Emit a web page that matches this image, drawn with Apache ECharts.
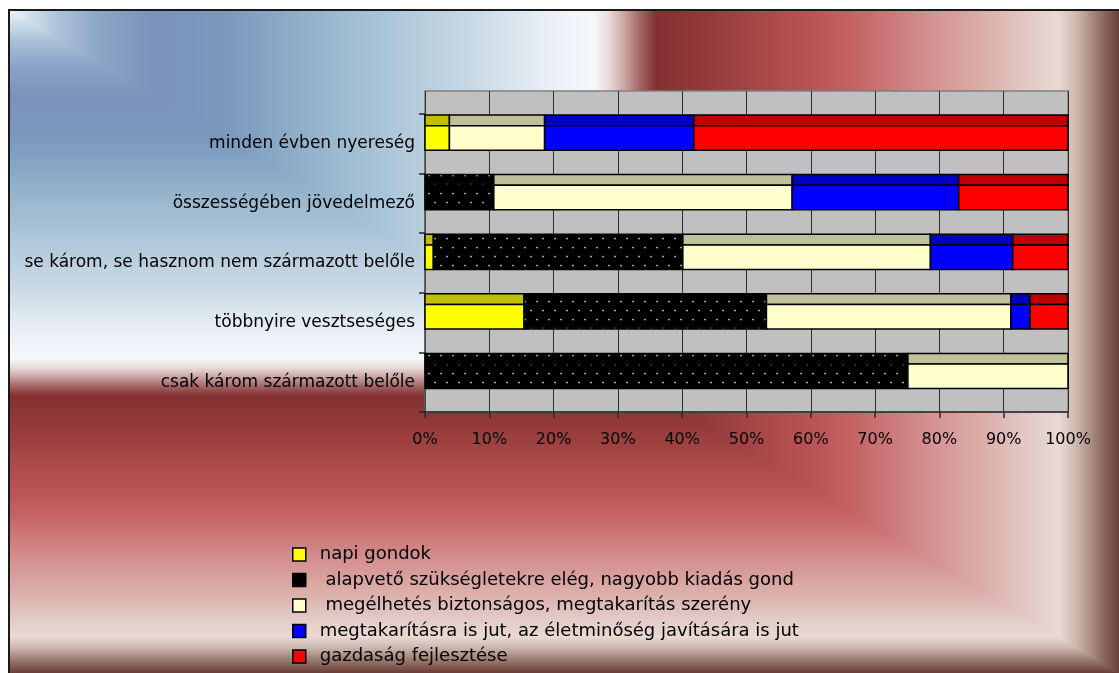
<!DOCTYPE html>
<html><head><meta charset="utf-8">
<script src="https://cdn.jsdelivr.net/npm/echarts@6/dist/echarts.min.js"></script>
<style>html,body{margin:0;padding:0;background:#fff}#c{width:1119px;height:673px}</style>
</head><body><div id="c"></div>
<script>
// ---- data (top to bottom) ----
const categories = ['minden évben nyereség', 'összességében jövedelmező', 'se károm, se hasznom nem származott belőle', 'többnyire vesztseséges', 'csak károm származott belőle'];
const seriesNames = ['napi gondok', ' alapvető szükségletekre elég, nagyobb kiadás gond', ' megélhetés biztonságos, megtakarítás szerény', 'megtakarításra is jut, az életminőség javítására is jut', 'gazdaság fejlesztése'];
const napiGondok   = [3.8, 0, 1.3, 15.4, 0];
const alapveto     = [0, 10.7, 38.8, 37.7, 75.1];
const megelhetes   = [14.8, 46.4, 38.5, 38.0, 24.9];
const megtakaritas = [23.2, 25.9, 12.8, 3.0, 0];
const gazdasag     = [58.2, 17.0, 8.6, 5.9, 0];
const xTickValues  = [0, 10, 20, 30, 40, 50, 60, 70, 80, 90, 100];

const FONT = 'DejaVu Sans';

function dotPattern() {
  const c = document.createElement('canvas');
  c.width = 12; c.height = 18;
  const g = c.getContext('2d');
  g.fillStyle = '#000'; g.fillRect(0, 0, 12, 18);
  g.fillStyle = '#d6d6d6';
  g.fillRect(2.3, 3.8, 1.5, 1.5);
  g.fillRect(8.3, 12.8, 1.5, 1.5);
  return c;
}
const pat = { image: dotPattern(), repeat: 'repeat' };
const frontColors = ['#ffff00', pat, '#ffffcc', '#0000ff', '#ff0000'];
const topColors = ['#c0c000', pat, '#c0c09a', '#0000c0', '#c00000'];
const legendColors = ['#ffff00', '#000000', '#ffffcc', '#0000ff', '#ff0000'];

const allValues = [napiGondok, alapveto, megelhetes, megtakaritas, gazdasag];
const cum = categories.map(() => 0);
const series = allValues.map((vals, s) => {
  const data = vals.map((v, i) => {
    const st = cum[i]; cum[i] += v;
    return [i, st, st + v, v];
  });
  return {
    type: 'custom', name: seriesNames[s], xAxisIndex: 1, yAxisIndex: 1,
    itemStyle: { color: legendColors[s] },
    encode: { x: [1, 2], y: 0 },
    data: data,
    renderItem: function (params, api) {
      const cat = api.value(0), a = api.value(1), b = api.value(2);
      if (b - a <= 0) return null;
      const p0 = api.coord([a, cat]);
      const p1 = api.coord([b, cat]);
      const band = api.size([0, 1])[1];
      const top = p0[1] - band / 2;
      const y1 = top + band * 0.017, y2 = top + band * 0.196, y3 = top + band * 0.607;
      return {
        type: 'group',
        children: [
          { type: 'rect', shape: { x: p0[0], y: y1, width: p1[0] - p0[0], height: y2 - y1 },
            style: { fill: topColors[s], stroke: '#000', lineWidth: 1.5 } },
          { type: 'rect', shape: { x: p0[0], y: y2, width: p1[0] - p0[0], height: y3 - y2 },
            style: { fill: frontColors[s], stroke: '#000', lineWidth: 1.5 } }
        ]
      };
    }
  };
});

// ---- background (box gradients) ----
const W = 1119, H = 673, L = 9, T = 10, CX = 593, CY = 358;
const blueStops = [
  [0, '#eef4f9'], [0.04, '#cddcea'], [0.09, '#aac0d6'], [0.16, '#8aa4c6'], [0.25, '#7a92ba'],
  [0.38, '#7c9abe'], [0.5, '#90b0c9'], [0.65, '#acc6d9'], [0.8, '#cadae5'], [0.92, '#e8eff5'], [1, '#f6f9fc']
].map(s => ({ offset: s[0], color: s[1] }));
const redStops = [
  [0, '#f6f9fc'], [0.03, '#eadcdc'], [0.06, '#c9a4a4'], [0.09, '#a26464'], [0.12, '#833131'],
  [0.22, '#953a3a'], [0.32, '#a94848'], [0.42, '#bb5454'], [0.5, '#c56464'], [0.64, '#d49090'],
  [0.75, '#dcb0ac'], [0.82, '#e2c8c4'], [0.885, '#e9dad4'], [0.92, '#cdb6ae'], [0.96, '#98786e'], [1, '#6a3e36']
].map(s => ({ offset: s[0], color: s[1] }));
function lin(x, y, x2, y2, stops) { return { type: 'linear', x: x, y: y, x2: x2, y2: y2, global: true, colorStops: stops }; }
function poly(points, fill) {
  return { type: 'polygon', z: -100, silent: true, shape: { points: points }, style: { fill: fill, stroke: fill, lineWidth: 1 } };
}
const bg = [
  poly([[L, T], [CX, T], [CX, CY]], lin(L, 0, CX, 0, blueStops)),
  poly([[L, T], [L, CY], [CX, CY]], lin(0, T, 0, CY, blueStops)),
  poly([[CX, T], [W, T], [W, H], [CX, CY]], lin(CX, 0, W, 0, redStops)),
  poly([[L, CY], [CX, CY], [W, H], [L, H]], lin(0, CY, 0, H, redStops)),
  { type: 'polyline', z: -90, silent: true, shape: { points: [[L, H], [L, T], [W, T]] }, style: { stroke: '#1a1a1a', lineWidth: 2, fill: null } }
];

const chart = echarts.init(document.getElementById('c'), null, { renderer: 'canvas' });
chart.setOption({
  animation: false,
  textStyle: { fontFamily: FONT },
  graphic: { elements: bg },
  grid: [
    { left: 425, right: 51, top: 91, bottom: 261, show: true, backgroundColor: '#c0c0c0', borderColor: '#808080', borderWidth: 1.5 },
    { left: 425, right: 51, top: 114, bottom: 261 }
  ],
  xAxis: [
    { gridIndex: 0, type: 'value', min: 0, max: 100, interval: 10,
      axisLine: { show: false }, axisTick: { show: false }, axisLabel: { show: false },
      splitLine: { show: true, lineStyle: { color: '#2e2e2e', width: 1 } } },
    { gridIndex: 1, type: 'value', min: xTickValues[0], max: xTickValues[xTickValues.length - 1], interval: 10,
      axisLine: { show: true, lineStyle: { color: '#2a2a2a', width: 1.5 } },
      axisTick: { show: true, length: 6, lineStyle: { color: '#2a2a2a', width: 1.5 } },
      splitLine: { show: false },
      axisLabel: { formatter: '{value}%', color: '#000', fontSize: 16, margin: 20, fontFamily: FONT } }
  ],
  yAxis: [
    { gridIndex: 0, type: 'value', min: 0, max: 1, show: false },
    { gridIndex: 1, type: 'category', data: categories, inverse: true,
      axisLine: { show: true, lineStyle: { color: '#555', width: 1.5 } },
      axisTick: { show: true, length: 6, lineStyle: { color: '#222', width: 1.5 } },
      splitLine: { show: false },
      axisLabel: { color: '#000', fontSize: 17, margin: 10, fontFamily: FONT } }
  ],
  legend: {
    orient: 'vertical', left: 292, top: 545.5, padding: 0, itemWidth: 13, itemHeight: 13, itemGap: 7.5,
    icon: 'rect',
    textStyle: { color: '#000', fontSize: 18, lineHeight: 18, fontFamily: FONT, padding: [0, 0, 0, 9] },
    data: seriesNames.map((n, i) => ({ name: n, itemStyle: { color: legendColors[i], borderColor: '#000', borderWidth: 1.5 } }))
  },
  series: series
});
</script>
</body></html>
